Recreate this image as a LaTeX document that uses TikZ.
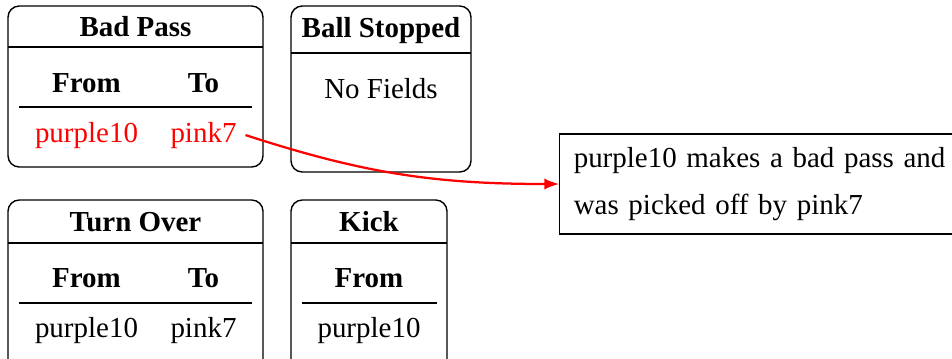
\documentclass[tikz,border=0pt]{standalone}
\usepackage{fontspec}
\setmainfont{Liberation Serif}
\usepackage{tikz}
\newcommand{\cardfont}{\fontsize{10.3pt}{12.4pt}\selectfont}

\begin{document}
\begin{tikzpicture}[x=0.0125cm,y=-0.0125cm,
	card/.style={draw,line width=0.5pt,rounded corners=4pt},
	rule/.style={line width=0.5pt},
	txt/.style={anchor=base,inner sep=3pt,font=\cardfont},
	title/.style={txt,font=\cardfont\bfseries},
	field/.style={txt,font=\cardfont\bfseries},
	hit/.style={txt,text=red},
	note/.style={draw,line width=0.5pt,anchor=west,align=left,text width=140pt,minimum height=35.6pt,inner xsep=5pt,font=\cardfont},
	link/.style={draw=red,line width=0.8pt,-latex}]
	\useasboundingbox (0,0) rectangle (952,358);
	\clip (0,0) rectangle (952,358);
	% Bad Pass card
	\draw[card] (8,6) rectangle (263,167);
	\draw[rule] (8,47) -- (263,47);
	\node[title] (badpass) at (135.5,36) {Bad Pass};
	\node[field] (bpfrom) at (86.5,92) {From};
	\node[field] (bpto) at (203.5,92) {To};
	\draw[rule] (19,107) -- (252,107);
	\node[hit] (bpplayer) at (86.5,142) {purple10};
	\node[hit] (bptarget) at (203.5,142) {pink7};
	% Ball Stopped card
	\draw[card] (291,6) rectangle (471,172);
	\draw[rule] (291,53) -- (471,53);
	\node[title] (ballstopped) at (381,37) {Ball Stopped};
	\node[txt] (bsnone) at (381,98) {No Fields};
	% Turn Over card
	\draw[card] (8,200) rectangle (263,390);
	\draw[rule] (8,243) -- (263,243);
	\node[title] (turnover) at (135.5,231) {Turn Over};
	\node[field] (tofrom) at (86.5,287) {From};
	\node[field] (toto) at (203.5,287) {To};
	\draw[rule] (19,303) -- (252,303);
	\node[txt] (toplayer) at (86.5,337) {purple10};
	\node[txt] (totarget) at (203.5,337) {pink7};
	% Kick card
	\draw[card] (291,200) rectangle (447,390);
	\draw[rule] (291,243) -- (447,243);
	\node[title] (kick) at (369,231) {Kick};
	\node[field] (kfrom) at (369,287) {From};
	\draw[rule] (302,303) -- (437,303);
	\node[txt] (kplayer) at (369,337) {purple10};
	% Description
	\node[note] (desc) at (559,184) {purple10 makes a bad pass and\\[4.6pt]was picked off by pink7};
	\draw[link] (bptarget.east) to[out=-18,in=180] (desc.west);
\end{tikzpicture}
\end{document}
